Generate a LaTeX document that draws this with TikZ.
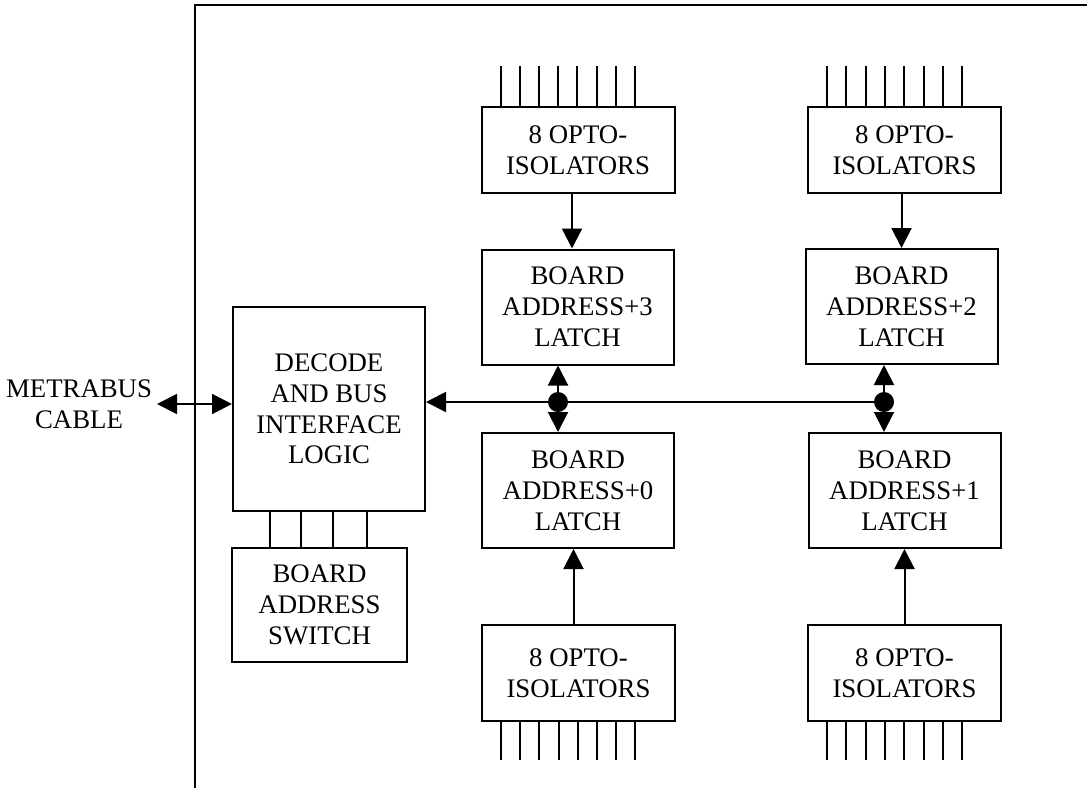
\documentclass[tikz,border=0pt]{standalone}
\usepackage{fontspec}
\setmainfont{Liberation Serif}
\usetikzlibrary{arrows.meta,calc}

\tikzset{
  blk/.style={draw, align=center, inner sep=0pt, font=\fontsize{13.4}{15.4}\selectfont},
  opto/.style={blk, minimum width=96.5pt, minimum height=43pt},
  optob/.style={blk, minimum width=96.5pt, minimum height=48pt},
  latch/.style={blk, minimum width=96pt, minimum height=57.5pt},
  tip/.style={-{Triangle[length=10pt,width=10pt]}},
  tips/.style={{Triangle[length=10pt,width=10pt]}-{Triangle[length=10pt,width=10pt]}}
}

\begin{document}
\begin{tikzpicture}[x=0.5pt,y=-0.5pt,line width=1pt]
  \useasboundingbox (0,0) rectangle (1087,788);
  \draw (195,788) -- (195,5) -- (1087,5);

  \node[opto]  (opto3)  at (578,150)   {8 OPTO-\\ISOLATORS};
  \node[latch] (latch3) at (577.5,307) {BOARD\\ADDRESS+3\\LATCH};
  \node[latch] (latch0) at (578,490.5) {BOARD\\ADDRESS+0\\LATCH};
  \node[optob] (opto0)  at (578.5,673) {8 OPTO-\\ISOLATORS};

  \node[opto]  (opto2)  at (904.5,150)   {8 OPTO-\\ISOLATORS};
  \node[latch] (latch2) at (901.5,306.5) {BOARD\\ADDRESS+2\\LATCH};
  \node[latch] (latch1) at (904.5,490.5) {BOARD\\ADDRESS+1\\LATCH};
  \node[optob] (opto1)  at (904.5,673)   {8 OPTO-\\ISOLATORS};

  \node[blk, minimum width=96pt, minimum height=102pt] (decode) at (329,409)
    {DECODE\\AND BUS\\INTERFACE\\LOGIC};
  \node[blk, minimum width=87.5pt, minimum height=57pt] (switch) at (319.5,605)
    {BOARD\\ADDRESS\\SWITCH};
  \node[blk, draw=none, anchor=east] (cable) at (153,404) {METRABUS\\CABLE};

  % opto pins
  \foreach \i in {0,...,7} {
    \draw ($(opto3.north west)+(20+19.2*\i,0)$) -- ++(0,-40);
    \draw ($(opto2.north west)+(20+19.3*\i,0)$) -- ++(0,-40);
    \draw ($(opto0.south west)+(20+19.2*\i,0)$) -- ++(0,38);
    \draw ($(opto1.south west)+(20+19.3*\i,0)$) -- ++(0,38);
  }
  % switch lines
  \foreach \d in {39,70,102,136} {
    \path ($(switch.north west)+(\d,0)$) coordinate (w);
    \draw (w) -- (w |- decode.south);
  }

  \draw[tip] ([xshift=-3pt]opto3.south) -- ([xshift=-3pt]opto3.south |- latch3.north);
  \draw[tip] (opto2.south -| latch2.north) -- (latch2.north);
  \draw[tip] ([xshift=-2.5pt]opto0.north) -- ([xshift=-2.5pt]opto0.north |- latch0.south);
  \draw[tip] (opto1.north) -- (latch1.south);

  \coordinate (j3) at (558,402);
  \coordinate (j2) at (884,402);
  \draw[tips] (latch3.south -| j3) -- (latch0.north -| j3);
  \draw[tips] (latch2.south -| j2) -- (latch1.north -| j2);
  \draw[tip] (j2) -- (decode.east |- j2);
  \fill (j3) circle (5pt);
  \fill (j2) circle (5pt);

  \draw[tips] ([xshift=2pt]cable.east) -- (decode.west |- cable.east);
\end{tikzpicture}
\end{document}
